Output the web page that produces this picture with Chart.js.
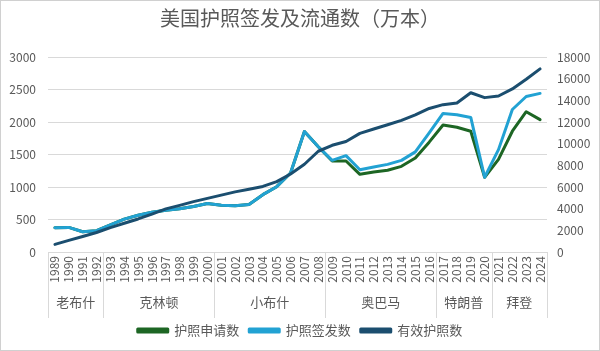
<!DOCTYPE html>
<html>
<head>
<meta charset="utf-8">
<script src="https://cdn.jsdelivr.net/npm/chart.js@4"></script>
<style>
  html, body { margin: 0; padding: 0; background: #ffffff; }
  #wrap { width: 600px; height: 351px; }
</style>
</head>
<body>
<div id="wrap"><canvas id="c" width="600" height="351"></canvas></div>
<script>
const years = ['1989','1990','1991','1992','1993','1994','1995','1996','1997','1998','1999','2000',
  '2001','2002','2003','2004','2005','2006','2007','2008','2009','2010','2011','2012',
  '2013','2014','2015','2016','2017','2018','2019','2020','2021','2022','2023','2024'];

// 护照申请数 (万本, left axis)
const applications = [372, 378, 311, 328, 418, 505, 565, 612, 642, 665, 700, 745,
  720, 710, 732, 882, 1005, 1215, 1855, 1620, 1400, 1400, 1195, 1232, 1258, 1318, 1445, 1690,
  1954, 1920, 1858, 1150, 1425, 1858, 2158, 2036];

// 护照签发数 (万本, left axis)
const issued = [372, 378, 311, 328, 418, 505, 565, 612, 642, 665, 700, 745,
  720, 710, 732, 882, 1005, 1215, 1855, 1620, 1410, 1482, 1266, 1308, 1348, 1410, 1540, 1832,
  2132, 2112, 2070, 1150, 1575, 2192, 2392, 2440];

// 有效护照数 (万本, right axis)
const valid = [700, 1070, 1430, 1800, 2250, 2650, 3050, 3500, 3980, 4300, 4650, 4950,
  5250, 5550, 5800, 6050, 6500, 7200, 8100, 9300, 9850, 10200, 10950, 11350,
  11750, 12150, 12650, 13250, 13600, 13750, 14700, 14250, 14400, 15050, 15950, 16900];

const presidents = ['老布什', '克林顿', '小布什', '奥巴马', '特朗普', '拜登'];
const termYears = [4, 8, 8, 8, 4, 4];

const leftTicks = [0, 500, 1000, 1500, 2000, 2500, 3000];
const rightTicks = [0, 2000, 4000, 6000, 8000, 10000, 12000, 14000, 16000, 18000];

const FONT = "'Noto Sans CJK SC', 'Noto Sans', sans-serif";
const TXT = '#595959';
const GRID = '#d9d9d9';

const frame = {
  id: 'frame',
  beforeDraw(chart) {
    const ctx = chart.ctx;
    ctx.save();
    ctx.fillStyle = '#ffffff';
    ctx.fillRect(0, 0, chart.width, chart.height);
    ctx.strokeStyle = '#d0d0d0';
    ctx.lineWidth = 1;
    ctx.strokeRect(0.5, 0.5, chart.width - 1, chart.height - 1);
    ctx.restore();
  }
};

const groupAxis = {
  id: 'groupAxis',
  afterDraw(chart) {
    const xs = chart.scales.x;
    const ctx = chart.ctx;
    const n = years.length;
    const w = (xs.right - xs.left) / n;
    const top = chart.chartArea.bottom;
    const bottom = top + 66;
    ctx.save();
    ctx.strokeStyle = GRID;
    ctx.lineWidth = 1;
    const vline = (px) => {
      const p = Math.round(px) + 0.5;
      ctx.beginPath();
      ctx.moveTo(p, top);
      ctx.lineTo(p, bottom);
      ctx.stroke();
    };
    vline(xs.getPixelForValue(0) - w / 2);
    ctx.fillStyle = TXT;
    ctx.font = '13px ' + FONT;
    ctx.textAlign = 'center';
    ctx.textBaseline = 'middle';
    let idx = 0;
    presidents.forEach((name, g) => {
      const start = idx;
      const end = idx + termYears[g] - 1;
      const x0 = xs.getPixelForValue(start) - w / 2;
      const x1 = xs.getPixelForValue(end) + w / 2;
      vline(x1);
      ctx.fillText(name, (x0 + x1) / 2, top + 50);
      idx += termYears[g];
    });
    ctx.restore();
  }
};

new Chart(document.getElementById('c'), {
  type: 'line',
  data: {
    labels: years,
    datasets: [
      { label: '护照申请数', data: applications, yAxisID: 'y', borderColor: '#1d6624', backgroundColor: '#1d6624', order: 3 },
      { label: '护照签发数', data: issued, yAxisID: 'y', borderColor: '#22a2d3', backgroundColor: '#22a2d3', order: 2 },
      { label: '有效护照数', data: valid, yAxisID: 'y1', borderColor: '#1b4e6f', backgroundColor: '#1b4e6f', order: 1 }
    ]
  },
  options: {
    responsive: false,
    animation: false,
    devicePixelRatio: 1,
    layout: { padding: { left: 0, right: 0, top: 0, bottom: 4 } },
    elements: {
      line: { borderWidth: 3, tension: 0, fill: false, borderCapStyle: 'round', borderJoinStyle: 'round' },
      point: { radius: 0, hoverRadius: 0 }
    },
    plugins: {
      title: {
        display: true,
        text: '美国护照签发及流通数（万本）',
        color: TXT,
        font: { family: FONT, size: 20, weight: 'normal' },
        padding: { top: 6, bottom: 27 }
      },
      legend: {
        position: 'bottom',
        labels: {
          sort: (a, b) => a.datasetIndex - b.datasetIndex,
          boxWidth: 30,
          boxHeight: 3,
          padding: 10,
          color: TXT,
          font: { family: FONT, size: 13 }
        }
      },
      tooltip: { enabled: false }
    },
    scales: {
      x: {
        type: 'category',
        offset: true,
        grid: { display: false, drawTicks: false },
        border: { display: false },
        ticks: {
          autoSkip: false,
          minRotation: 90,
          maxRotation: 90,
          padding: 4,
          color: TXT,
          font: { family: FONT, size: 12 }
        },
        afterFit(scale) { scale.height = 62; }
      },
      y: {
        position: 'left',
        min: 0,
        max: 3000,
        afterBuildTicks(scale) { scale.ticks = leftTicks.map(v => ({ value: v })); },
        grid: { color: GRID, drawTicks: false, lineWidth: 1 },
        border: { display: false },
        ticks: { padding: 12, color: TXT, font: { family: FONT, size: 12 }, callback: (v) => String(v) },
        afterFit(scale) { scale.width = 48; }
      },
      y1: {
        position: 'right',
        min: 0,
        max: 18000,
        afterBuildTicks(scale) { scale.ticks = rightTicks.map(v => ({ value: v })); },
        grid: { display: false, drawTicks: false },
        border: { display: false },
        ticks: { padding: 10, color: TXT, font: { family: FONT, size: 12 }, callback: (v) => String(v) },
        afterFit(scale) { scale.width = 53; }
      }
    }
  },
  plugins: [frame, groupAxis]
});
</script>
</body>
</html>
